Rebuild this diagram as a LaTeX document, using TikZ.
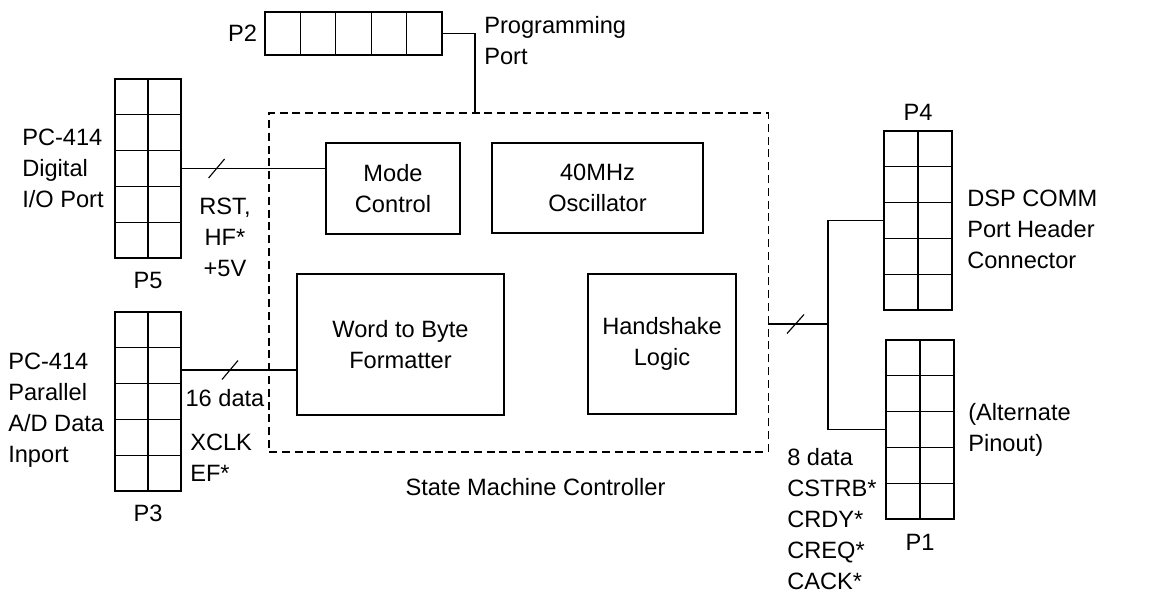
\documentclass[tikz,border=0pt]{standalone}
\usepackage{fontspec}
\setmainfont{Liberation Sans}
\usepackage{tikz}
\usetikzlibrary{calc,positioning}
\tikzstyle{unit} = [rectangle, draw, line width=0.8pt, align=center, inner sep=0pt]
\tikzstyle{lbl} = [inner sep=0pt, align=left]
\tikzstyle{clbl} = [inner sep=0pt, align=center]
\tikzstyle{hdrcol} = [rectangle, draw, line width=0.8pt, minimum width=1.65cm, minimum height=4.475cm,
  path picture={
    \draw[line width=0.8pt] (path picture bounding box.north) -- (path picture bounding box.south);
    \foreach \k in {1,...,4}
      \draw[line width=0.8pt] ($(path picture bounding box.north west)!\k/5!(path picture bounding box.south west)$)
        -- ($(path picture bounding box.north east)!\k/5!(path picture bounding box.south east)$);
  }]
\tikzstyle{hdrrow} = [rectangle, draw, line width=0.8pt, minimum width=4.425cm, minimum height=1.075cm,
  path picture={
    \foreach \k in {1,...,4}
      \draw[line width=0.8pt] ($(path picture bounding box.north west)!\k/5!(path picture bounding box.north east)$)
        -- ($(path picture bounding box.south west)!\k/5!(path picture bounding box.south east)$);
  }]
\tikzstyle{wire} = [line width=0.8pt]

\begin{document}
\begin{tikzpicture}[x=0.025cm, y=-0.025cm, font=\fontsize{16.8}{22}\selectfont]
\useasboundingbox (0,0) rectangle (1155,594);

% State machine controller
\node[draw, line width=0.8pt, dash pattern=on 0.2cm off 0.12cm, minimum width=12.475cm, minimum height=8.475cm] (smc) at (518.5,282.5) {};
\node[clbl] (smclbl) at (535.5,487) {State Machine Controller};
\node[unit, minimum width=3.35cm, minimum height=2.275cm] (mode) at (393,188.5) {Mode\\Control};
\node[unit, minimum width=5.275cm, minimum height=2.25cm] (osc) at (597.5,188) {40MHz\\Oscillator};
\node[unit, minimum width=5.175cm, minimum height=3.525cm] (word) at (400.5,344.5) {Word to Byte\\Formatter};
\node[unit, minimum width=3.7cm, minimum height=3.5cm] (hand) at (662,344) {Handshake\\Logic};

% Headers
\node[hdrrow] (P2) at (353.5,33.5) {};
\node[left=0.18cm of P2, inner sep=0pt] (p2lbl) {P2};
\node[lbl, anchor=west] (prog) at (484,41) {Programming\\Port};

\node[hdrcol] (P5) at (148,168.5) {};
\node[below=0.34cm of P5, inner sep=0pt] (p5lbl) {P5};
\node[lbl, anchor=west] (dio) at (22,168) {PC-414\\Digital\\I/O Port};

\node[hdrcol] (P3) at (148,401.5) {};
\node[below=0.32cm of P3, inner sep=0pt] (p3lbl) {P3};
\node[lbl, anchor=west] (adin) at (8,410) {PC-414\\Parallel\\A/D Data\\Inport};

\node[hdrcol, minimum width=1.7cm] (P4) at (918,220.5) {};
\node[above=0.24cm of P4, inner sep=0pt] (p4lbl) {P4};
\node[lbl, anchor=west] (dsp) at (967,229) {DSP COMM\\Port Header\\Connector};

\node[hdrcol, minimum width=1.7cm] (P1) at (920,429.5) {};
\node[below=0.37cm of P1, inner sep=0pt] (p1lbl) {P1};
\node[lbl, anchor=west] (alt) at (968,430) {(Alternate\\Pinout)};

% Signal labels
\node[clbl] (rst) at (225,237) {RST,\\HF*\\+5V};
\node[clbl] (d16) at (225,398) {16 data};
\node[lbl, anchor=west] (xclk) at (190,458) {XCLK\\EF*};
\node[lbl, anchor=west] (d8) at (787,519) {8 data\\CSTRB*\\CRDY*\\CREQ*\\CACK*};

% Connections
\coordinate (pp) at (475,113);
\draw[wire] (P2.east) -| (pp);

\draw[wire] (P5.east) -- (P5.east -| mode.west);
\draw[wire] ($(P5.east)+(27,9.5)$) -- ++(16,-19);

\coordinate (in16) at (181,370);
\draw[wire] (in16) -- (in16 -| word.west);
\draw[wire] ($(in16)+(41,9.5)$) -- ++(16,-19);

\coordinate (out8) at (768,324);
\coordinate (bus) at (828,324);
\draw[wire] (out8) -- (bus);
\draw[wire] (P4.west) -| (bus) |- (P1.west);
\draw[wire] ($(out8)+(19,9.5)$) -- ++(17,-19);
\end{tikzpicture}
\end{document}
